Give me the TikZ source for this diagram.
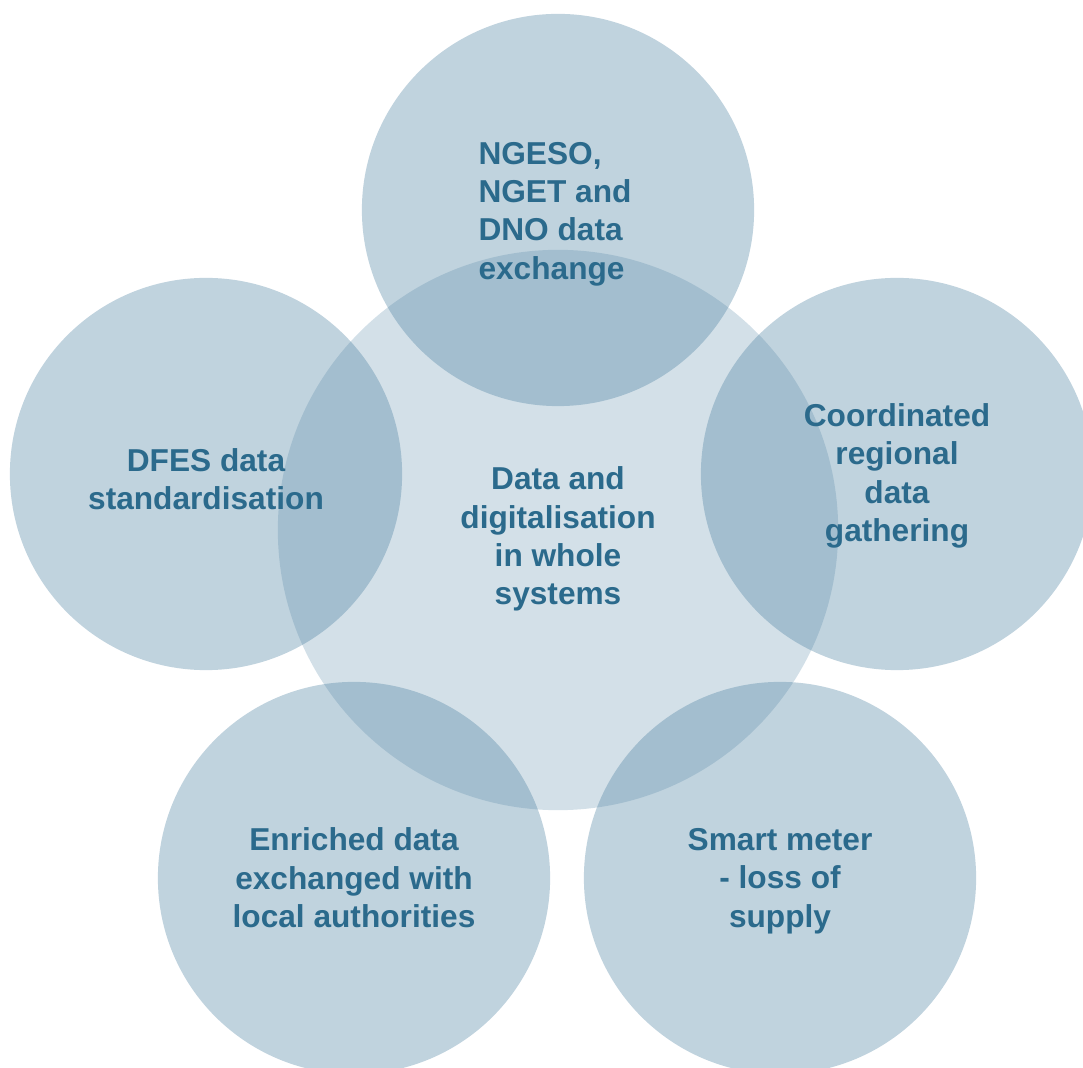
\documentclass[tikz,border=0pt]{standalone}
\usepackage{fontspec}
\setmainfont{Liberation Sans}
\definecolor{bubblefill}{RGB}{70,125,158}
\definecolor{bubbletext}{RGB}{43,106,140}

\begin{document}
\begin{tikzpicture}[x=0.01cm,y=-0.01cm]
        \tikzstyle{bubble}=[circle,fill=bubblefill,fill opacity=0.34,minimum size=3.92cm,inner sep=0pt]
        \tikzstyle{caption}=[text=bubbletext,inner sep=0pt,font=\fontsize{9}{10.9}\selectfont\bfseries,align=center]
        \useasboundingbox (0,0) rectangle (1083,1068);
        \node[bubble,minimum size=5.6cm,fill opacity=0.24] (hub) at (558,530) {};
        \node[bubble] (b_top) at (558,210) {};
        \node[bubble] (b_left) at (206,474) {};
        \node[bubble] (b_right) at (897,474) {};
        \node[bubble] (b_lowleft) at (354,878) {};
        \node[bubble] (b_lowright) at (780,878) {};
        \node[caption] (t_hub) at (558,539) {Data and\\digitalisation\\in whole\\systems};
        \node[caption,align=left] (t_top) at (555,214) {NGESO,\\NGET and\\DNO data\\exchange};
        \node[caption] (t_left) at (206,479) {DFES data\\standardisation};
        \node[caption] (t_right) at (897,476) {Coordinated\\regional\\data\\gathering};
        \node[caption] (t_lowleft) at (354,878) {Enriched data\\exchanged with\\local authorities};
        \node[caption] (t_lowright) at (780,881) {Smart meter\\- loss of\\supply};
      \end{tikzpicture}
\end{document}
